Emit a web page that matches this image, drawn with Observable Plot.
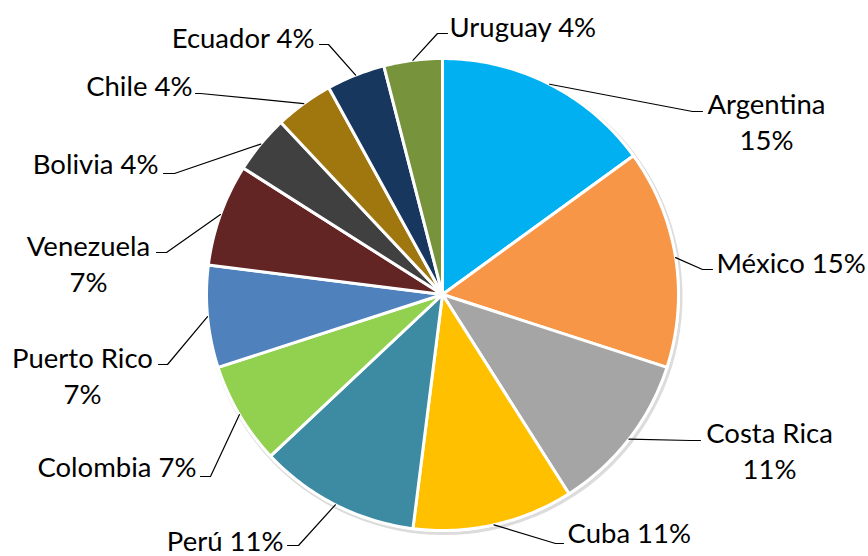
<!DOCTYPE html>
<html>
<head>
<meta charset="utf-8">
<script src="https://cdn.jsdelivr.net/npm/d3@7"></script>
<script src="https://cdn.jsdelivr.net/npm/@observablehq/plot@0.6"></script>
<style>
  html, body { margin: 0; padding: 0; background: #fff; }
  #chart { width: 868px; height: 556px; }
</style>
</head>
<body>
<div id="chart"></div>
<script>
// ---- data ----
const names  = ["Argentina","México","Costa Rica","Cuba","Perú","Colombia","Puerto Rico","Venezuela","Bolivia","Chile","Ecuador","Uruguay"];
const values = [15,15,11,11,11,7,7,7,4,4,4,4];   // percent
const colors = ["#00B0F0","#F79646","#A5A5A5","#FFC000","#3C8BA3","#92D050","#4F81BD","#632523","#404040","#A0760E","#17375E","#77933C"];
// wrapped labels (name on one line, percent on the next)
const wrapped = [true,false,true,false,false,false,true,true,false,false,false,false];

// ---- layout (label placement, pixels) ----
const W = 868, H = 556;
const cx = 442, cy = 294, R = 236;
const labelLayout = [
  {elbow:[692,111], stub:[702,111], x:766, y:120, anchor:"middle"},
  {elbow:[702,269], stub:[712,269], x:716, y:261, anchor:"start"},
  {elbow:[690,440], stub:[700,440], x:769, y:449, anchor:"middle"},
  {elbow:[555,543], stub:[563,543], x:567, y:531, anchor:"start"},
  {elbow:[298,545], stub:[287,545], x:283, y:539, anchor:"end"},
  {elbow:[210,476], stub:[200,476], x:196, y:465, anchor:"end"},
  {elbow:[167,364], stub:[158,364], x:82,  y:374, anchor:"middle"},
  {elbow:[166,252], stub:[156,252], x:88,  y:262, anchor:"middle"},
  {elbow:[174,173], stub:[163,173], x:158, y:162, anchor:"end"},
  {elbow:[200,93],  stub:[195,93],  x:192, y:84,  anchor:"end"},
  {elbow:[328,44],  stub:[319,44],  x:314, y:36,  anchor:"end"},
  {elbow:[437,33],  stub:[447,33],  x:449, y:25,  anchor:"start"}
];

// ---- derived geometry ----
const total = d3.sum(values);
const pie = d3.pie().sort(null).value(d => d)(values);
const pt = (a, r) => [cx + r * Math.sin(a), cy - r * Math.cos(a)];

const slicePts = [];
pie.forEach((p, i) => {
  slicePts.push({name: names[i], color: colors[i], x: cx, y: cy});
  const n = Math.max(8, Math.ceil((p.endAngle - p.startAngle) * 60));
  for (let k = 0; k <= n; k++) {
    const a = p.startAngle + (p.endAngle - p.startAngle) * k / n;
    const [x, y] = pt(a, R);
    slicePts.push({name: names[i], color: colors[i], x, y});
  }
});

const leaderPts = [];
const labels = [];
pie.forEach((p, i) => {
  const mid = (p.startAngle + p.endAngle) / 2;
  const [x0, y0] = pt(mid, R);
  const L = labelLayout[i];
  leaderPts.push({name: names[i], x: x0, y: y0});
  leaderPts.push({name: names[i], x: L.elbow[0], y: L.elbow[1]});
  leaderPts.push({name: names[i], x: L.stub[0], y: L.stub[1]});
  const pct = Math.round(values[i] / total * 100) + "%";
  labels.push({text: wrapped[i] ? names[i] + "\n" + pct : names[i] + " " + pct, x: L.x, y: L.y, anchor: L.anchor});
});

const FS = 27.5;
const chart = Plot.plot({
  width: W, height: H,
  margin: 0,
  x: {domain: [0, W], range: [0, W], axis: null},
  y: {domain: [0, H], range: [0, H], axis: null},
  style: {fontFamily: "Lato, 'Open Sans', sans-serif", background: "#fff"},
  marks: [
    Plot.dot([{x: cx + 1.5, y: cy + 2}], {x: "x", y: "y", r: R + 2.5, fill: "#dcdcdc", stroke: "none"}),
    Plot.dot([{x: cx, y: cy}], {x: "x", y: "y", r: R + 1.5, fill: "#fff", stroke: "none"}),
    Plot.line(slicePts, {x: "x", y: "y", z: "name", fill: "color", stroke: "#fff", strokeWidth: 3, curve: "linear-closed", strokeLinejoin: "round"}),
    Plot.line(leaderPts, {x: "x", y: "y", z: "name", stroke: "#000", strokeWidth: 1.2}),
    Plot.text(labels.filter(d => d.anchor === "start"), {x: "x", y: "y", text: "text", textAnchor: "start", fontSize: FS, fill: "#000", lineHeight: 1.3}),
    Plot.text(labels.filter(d => d.anchor === "end"), {x: "x", y: "y", text: "text", textAnchor: "end", fontSize: FS, fill: "#000", lineHeight: 1.3}),
    Plot.text(labels.filter(d => d.anchor === "middle"), {x: "x", y: "y", text: "text", textAnchor: "middle", fontSize: FS, fill: "#000", lineHeight: 1.3})
  ]
});
document.getElementById("chart").appendChild(chart);
</script>
</body>
</html>
